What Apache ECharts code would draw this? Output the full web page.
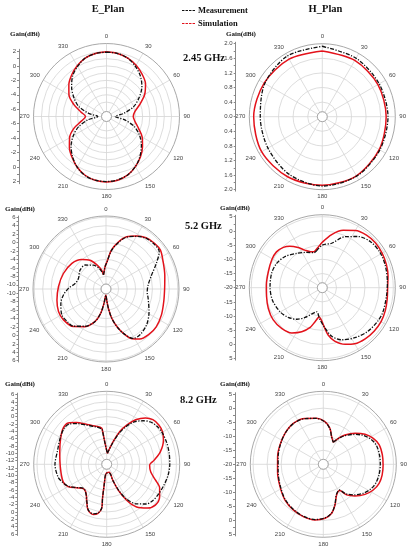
<!DOCTYPE html>
<html>
<head>
<meta charset="utf-8">
<title>E_Plan / H_Plan</title>
<script src="https://cdn.jsdelivr.net/npm/echarts@6/dist/echarts.min.js"></script>
<style>
  html, body { margin: 0; padding: 0; background: #fff; }
  #chart { width: 411px; height: 550px; }
</style>
</head>
<body>
<div id="chart"></div>
<script>
// ---- data (gain in dBi, angle in degrees) ----
// E plane, 2.45 GHz
const e245Ang  = [0,10,20,30,40,50,60,70,80,90,100,110,120,130,140,150,160,170,180,190,200,210,220,230,240,250,260,270,280,290,300,310,320,330,340,350,360]
const e245Meas = [1.9,1.85,1.6,1.0,0.3,-0.6,-1.8,-3.0,-4.6,-5.8,-4.5,-2.9,-1.7,-0.7,0.2,1.0,1.6,1.9,2.0,1.95,1.7,1.1,0.3,-0.6,-1.7,-2.9,-4.4,-5.8,-4.5,-2.9,-1.8,-0.7,0.3,1.0,1.6,1.85,1.9]
const e245Sim  = [1.95,1.85,1.6,1.2,0.65,0.05,-0.9,-2.1,-3.0,-3.3,-3.0,-2.3,-1.3,-0.5,0.3,1.0,1.6,1.95,2.05,1.95,1.65,1.1,0.4,-0.3,-1.1,-2.2,-3.5,-4.1,-3.4,-2.2,-1.0,-0.2,0.5,1.1,1.6,1.85,1.95]

// H plane, 2.45 GHz
const h245Ang  = [0,30,60,90,120,150,180,210,240,270,300,330,360]
const h245Meas = [1.93,1.85,1.8,1.8,1.82,1.88,1.9,1.82,1.72,1.7,1.82,1.92,1.93]
const h245Sim  = [1.8,1.78,1.76,1.75,1.8,1.87,1.88,1.9,1.92,1.88,1.84,1.82,1.8]

// E plane, 5.2 GHz
const e52MeasAng  = [350,354,358,2,8,15,21.5,30,38,47,55,63,73,85,95,102,118,131,143,151,158.6,164,169,173,176.5,180,184,188,192.4,198.6,209,221,230,239.6,252.5,262,271,280,291,306,319,332,343,350]
const e52MeasGain = [-7.6,-6.8,-5.6,-4.6,-1.8,0.4,2.2,3.4,4.3,4.6,4.4,2.4,0.3,-1.0,-1.2,-0.8,0.55,1.8,2.5,2.4,0.3,-1.8,-4.0,-6.4,-8.4,-9.5,-9.3,-7.6,-5.1,-2.9,-0.9,0.7,1.0,1.14,0.22,-0.82,-2.1,-3.56,-4.0,-3.4,-3.47,-4.6,-6.1,-7.6]
const e52SimAng   = [350,354,358,2,8,15,21.5,30,38,47,54.5,64.5,77,89,102,115,127,137,146,152.5,158.6,164,169,173,176.5,180,184,188,192.4,198.6,209,221,234,244.6,257,273,290,307,320.6,331,339,347,350]
const e52SimGain  = [-7.6,-6.8,-5.6,-4.6,-1.7,0.55,2.3,3.5,4.4,4.8,4.85,4.0,3.3,2.9,3.0,3.5,3.9,3.8,3.3,2.3,0.3,-1.8,-4.0,-6.4,-8.4,-9.5,-9.3,-7.6,-5.1,-2.9,-0.8,0.8,1.45,1.46,0.93,0.27,-0.26,-0.88,-1.94,-3.2,-4.8,-6.4,-7.6]

// H plane, 5.2 GHz
const h52MeasAng  = [351,0,12,24,35,47,59,71,85,97,112,121,134,147,160,169,176,185,193,202,210,219,229,240,256,271,286,298,310,323,336,346.6,351]
const h52MeasGain = [-6.9,-5.0,-4.0,-0.35,2.0,3.5,3.8,3.5,3.0,2.8,3.0,2.8,2.2,1.0,-0.5,-2.6,-5.7,-9.0,-11.3,-10.0,-7.9,-5.7,-4.1,-2.9,-1.9,-1.6,-1.45,-1.8,-2.9,-4.9,-6.4,-7.3,-6.9]
const h52SimAng   = [347.5,354,0,10,20,30,40,50,60,70,80,90,100,110,120,130,140,150,158,167,173,177,181,186,192,197,205,214,225,237,249,261,273,287,299,308,316,322,329,335,342,347.5]
const h52SimGain  = [-7.0,-5.7,-4.0,-1.0,1.5,3.3,4.2,4.5,4.3,4.0,3.5,3.0,3.2,3.6,3.9,3.8,3.5,2.8,1.5,-0.7,-3.2,-6.0,-8.3,-9.6,-7.75,-5.4,-2.9,-0.8,0.25,0.67,0.36,-0.14,-0.3,-0.17,0.33,0.48,-0.25,-1.44,-3.5,-5.4,-6.7,-7.0]

// E plane, 8.2 GHz
const e82MeasAng  = [3.5,16,22,27,33,40,46,53,60,70,80,90,100,110,120,128,135,143,150,155,159,163,184,187,187,186.5,190,195,202,208,216,224,232,240,248,255,270,285,300,310,317,324,333,345,352,353,355.5,3.5]
const e82MeasGain = [-10.0,-6.8,-3.8,-1.5,0.8,2.5,3.6,4.2,4.4,4.4,4.3,4.2,4.0,3.6,3.3,3.0,2.3,0.5,-2.0,-5.0,-8.2,-10.5,-10.5,-7.4,-3.7,-1.0,0.5,1.0,0.4,-1.5,-3.3,-3.9,-2.7,-1.0,0.0,0.7,1.1,0.9,1.6,2.2,2.0,0.7,-1.0,-2.5,-3.3,-4.2,-7.3,-10.0]
const e82SimAng   = [3.5,16,22,27,33,40,46,53,60,67,77,85,91,100,108,114,122,130,137,145,151,156,159,163,184,187,187,186.5,190,195,202,208,215,224,232,240,248,265,285,300,310,317,324,333,345,352,353,355.5,3.5]
const e82SimGain  = [-10.0,-6.5,-3.3,-1.0,1.5,3.5,4.5,4.8,4.6,3.8,2.0,0.0,-1.3,-0.8,1.0,2.8,4.0,4.3,3.3,1.2,-1.8,-5.3,-8.4,-10.7,-10.5,-7.3,-3.6,-0.9,0.6,1.2,0.5,-1.4,-3.25,-3.8,-2.6,-0.85,-0.2,-0.35,0.25,1.47,2.43,2.4,1.07,-0.75,-2.3,-3.05,-4.0,-7.2,-10.0]

// H plane, 8.2 GHz
const h82MeasAng  = [24.4,30,36.4,45.6,54.2,62.5,70.8,81,90.6,100.4,108.8,117.2,125.8,135,142.7,148,156.5,164,170.3,178.2,188.5,200.9,213.3,227,242.7,260.9,279.5,294,309,323.8,338.3,351.8,2.2,10.5,16.8,24.4]
const h82MeasGain = [-11.4,-9.5,-7.4,-4.8,-2.4,-0.8,0.1,0.3,0.3,0.2,-0.1,-0.9,-2.4,-4.6,-6.8,-9.2,-8.3,-5.0,-2.4,-0.9,-0.1,-0.2,-0.7,-1.5,-2.8,-3.7,-3.7,-3.2,-2.5,-2.0,-2.5,-3.5,-4.9,-7.1,-9.8,-11.4]
const h82SimAng   = [24.4,30,36.4,45.6,54.2,62.5,70.8,81,90.6,100.4,108.8,117.2,125.8,135,142.7,148,156.5,164,170.3,178.2,188.5,200.9,213.3,227,242.7,260.9,279.5,294,309,323.8,338.3,351.8,2.2,10.5,16.8,24.4]
const h82SimGain  = [-11.4,-9.3,-7.0,-4.2,-1.7,0.06,1.1,1.3,1.3,1.3,1.0,0.0,-1.7,-4.05,-6.3,-9.0,-8.1,-4.9,-2.3,-0.77,0.04,-0.06,-0.56,-1.35,-2.65,-3.5,-3.5,-3.1,-2.45,-1.9,-2.4,-3.45,-4.8,-7.0,-9.7,-11.4]

// gain-axis tick labels and grid circles
const e245Labels = [-6,-4,-2,0,2]
const h245Labels = [0,0.4,0.8,1.2,1.6,2.0]
const e52Labels  = [-10,-8,-6,-4,-2,0,2,4,6]
const h52Labels  = [-20,-15,-10,-5,0,5]
const e82Labels  = [-12,-10,-8,-6,-4,-2,0,2,4,6]
const h82Labels  = [-20,-15,-10,-5,0,5]

const e245Rings = [-5,-4,-3,-2,-1,0,1,2]
const h245Rings = [0.4,0.8,1.2,1.6]
const e52Rings  = [-8,-6,-4,-2,0,2,4,6]
const h52Rings  = [-15,-10,-5,0,5]
const e82Rings  = [-10,-8,-6,-4,-2,0,2,4,6]
const h82Rings  = [-15,-10,-5,0,5]

// ---- layout ----
const R = 73
const HOLE = 5
const panels = [
  { cx: 106.5, cy: 116.5, vc: -7,  vmax: 3.1, axisX: 19,    ext: 9.3,  dec: 0, labels: e245Labels, rings: e245Rings,
    meas: [e245Ang, e245Meas], sim: [e245Ang, e245Sim] },
  { cx: 322.3, cy: 116.7, vc: 0,   vmax: 2.0, axisX: 235.7, ext: 2.04, dec: 1, labels: h245Labels, rings: h245Rings,
    meas: [h245Ang, h245Meas], sim: [h245Ang, h245Sim] },
  { cx: 106,   cy: 289,   vc: -11, vmax: 6.3, axisX: 18.5,  ext: 17.3, dec: 0, labels: e52Labels, rings: e52Rings,
    meas: [e52MeasAng, e52MeasGain], sim: [e52SimAng, e52SimGain] },
  { cx: 322.3, cy: 287.7, vc: -20, vmax: 5.7, axisX: 235.7, ext: 25.5, dec: 0, labels: h52Labels, rings: h52Rings,
    meas: [h52MeasAng, h52MeasGain], sim: [h52SimAng, h52SimGain] },
  { cx: 106.7, cy: 464.3, vc: -13, vmax: 6.9, axisX: 17.3,  ext: 19.4, dec: 0, labels: e82Labels, rings: e82Rings,
    meas: [e82MeasAng, e82MeasGain], sim: [e82SimAng, e82SimGain] },
  { cx: 323.3, cy: 464.3, vc: -20, vmax: 6.0, axisX: 235,   ext: 25.5, dec: 0, labels: h82Labels, rings: h82Rings,
    meas: [h82MeasAng, h82MeasGain], sim: [h82SimAng, h82SimGain] }
]

const serif = '"Liberation Serif", "DejaVu Serif", serif'
const sans = '"Liberation Sans", Arial, sans-serif'
const gridColor = '#d4d4d4'
// short dashes for the legend keys
const dashIcon = 'path://M0,0h3v1h-3z M4.3,0h3v1h-3z M8.6,0h3v1h-3z M12.9,0h3v1h-3z'

const polar = [], angleAxis = [], radiusAxis = []
const grid = [], xAxis = [], yAxis = [], series = []

panels.forEach((p, i) => {
  const k = R / (p.vmax - p.vc)
  const rMin = p.vc + HOLE / k

  polar.push({ center: [p.cx, p.cy], radius: [HOLE, R] })
  angleAxis.push({
    polarIndex: i, type: 'value', min: 0, max: 360, interval: 30,
    startAngle: 90, clockwise: true,
    axisLine: { lineStyle: { color: '#a9a9a9', width: 1 } },
    axisTick: { show: false },
    axisLabel: { color: '#444', fontSize: 6, fontFamily: sans, margin: 4 },
    splitLine: { show: true, lineStyle: { color: gridColor, width: 0.8 } }
  })
  radiusAxis.push({
    polarIndex: i, type: 'value', min: rMin, max: p.vmax,
    axisLine: { show: false },
    axisTick: { show: false, customValues: [rMin].concat(p.rings) },
    axisLabel: { show: false },
    splitLine: { show: true, lineStyle: { color: gridColor, width: 0.8 } }
  })

  // mirrored gain axis on the left of each polar plot
  const offs = p.labels.map(v => +(v - p.vc).toFixed(4))
  const labelVals = []
  offs.forEach(o => { labelVals.push(o); if (o !== 0) labelVals.push(-o) })
  const tickVals = labelVals.slice()
  for (let j = 0; j < offs.length - 1; j++) {
    const m = +((offs[j] + offs[j + 1]) / 2).toFixed(4)
    tickVals.push(m, -m)
  }
  grid.push({ left: p.axisX, top: p.cy - p.ext * k, height: 2 * p.ext * k, width: 10, outerBoundsMode: 'none' })
  xAxis.push({ gridIndex: i, type: 'value', show: false })
  yAxis.push({
    gridIndex: i, type: 'value', min: -p.ext, max: p.ext, position: 'left',
    axisLine: { show: true, lineStyle: { color: '#888', width: 1 } },
    axisTick: { show: true, length: 2, customValues: tickVals, lineStyle: { color: '#888' } },
    axisLabel: {
      customValues: labelVals, margin: 3, fontSize: 6, color: '#444', fontFamily: sans,
      formatter: v => (p.vc + Math.abs(v)).toFixed(p.dec)
    },
    splitLine: { show: false }
  })

  series.push({
    type: 'line', name: 'Simulation', coordinateSystem: 'polar', polarIndex: i,
    data: p.sim[0].map((a, j) => [p.sim[1][j], a]),
    symbol: 'none', smooth: 0.3, clip: false, z: 2,
    lineStyle: { color: '#e3121b', width: 1.5 }, itemStyle: { color: '#e3121b' }
  })
  series.push({
    type: 'line', name: 'Measurement', coordinateSystem: 'polar', polarIndex: i,
    data: p.meas[0].map((a, j) => [p.meas[1][j], a]),
    symbol: 'none', smooth: 0.3, clip: false, z: 3,
    lineStyle: { color: '#111', width: 1.3, type: [4, 1.5, 1.2, 1.5] }, itemStyle: { color: '#111' }
  })
})

const txt = (text, x, y, size, align) => ({
  type: 'text', x: x, y: y, silent: true,
  style: { text: text, align: align || 'left', verticalAlign: 'middle', fill: '#111', font: 'bold ' + size + 'px ' + serif }
})

const chart = echarts.init(document.getElementById('chart'), null, { renderer: 'canvas' })
chart.setOption({
  animation: false,
  backgroundColor: '#fff',
  textStyle: { fontFamily: sans },
  legend: {
    orient: 'vertical', left: 177, top: 1, itemWidth: 13, itemHeight: 1.2, itemGap: 4,
    textStyle: { fontFamily: serif, fontWeight: 'bold', fontSize: 8.5, color: '#111', padding: [0, 0, 0, -2] },
    data: [
      { name: 'Measurement', icon: dashIcon },
      { name: 'Simulation', icon: dashIcon }
    ]
  },
  polar, angleAxis, radiusAxis, grid, xAxis, yAxis, series,
  graphic: [
    txt('E_Plan', 108, 9, 10.5, 'center'),
    txt('H_Plan', 325.5, 9, 10.5, 'center'),
    txt('2.45 GHz', 183, 58, 10.5),
    txt('5.2 GHz', 185, 226, 10.5),
    txt('8.2 GHz', 180, 400, 10.5),
    txt('Gain(dBi)', 10, 34, 7),
    txt('Gain(dBi)', 226, 34, 7),
    txt('Gain(dBi)', 5, 209, 7),
    txt('Gain(dBi)', 220, 208, 7),
    txt('Gain(dBi)', 5, 384, 7),
    txt('Gain(dBi)', 220, 384, 7)
  ]
})
</script>
</body>
</html>
